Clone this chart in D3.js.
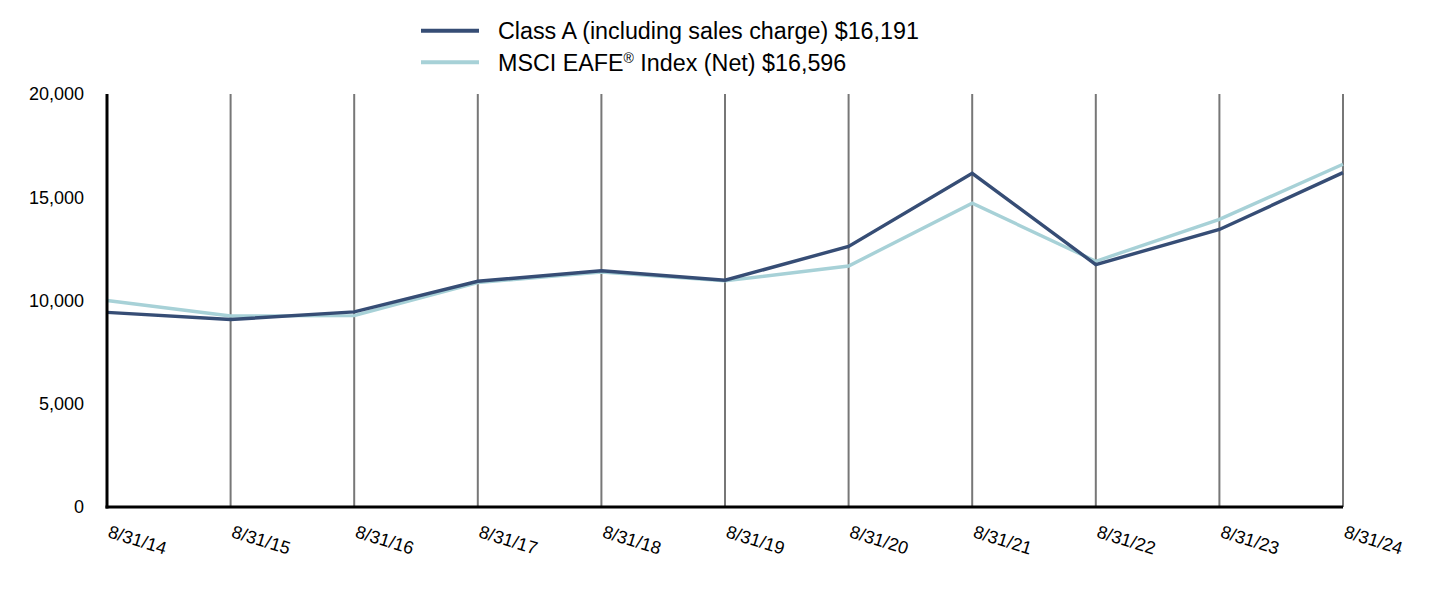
<!DOCTYPE html>
<html><head><meta charset="utf-8">
<script src="https://cdn.jsdelivr.net/npm/d3@7"></script>
<style>body{margin:0;background:#fff}svg{display:block;font-family:Arial,"Liberation Sans",sans-serif}</style>
</head><body>
<svg id="c" width="1432" height="596"></svg>
<script>
const dates = ["8/31/14","8/31/15","8/31/16","8/31/17","8/31/18","8/31/19","8/31/20","8/31/21","8/31/22","8/31/23","8/31/24"];
const classA = [9425,9080,9450,10930,11440,10980,12620,16160,11740,13440,16191];
const msci = [10000,9250,9270,10870,11380,10950,11670,14710,11900,13930,16596];
const yTicks = [0,5000,10000,15000,20000];
const seriesNames = ["Class A (including sales charge) $16,191","MSCI EAFE\u00AE Index (Net) $16,596"];
const colors = ["#364d75","#a7d1d7"];

const svg = d3.select("#c");
const L=107,R=1343,T=94,B=507;
const x = d3.scalePoint().domain(dates).range([L,R]);
const y = d3.scaleLinear().domain([0,20000]).range([B,T]);

// vertical gridlines
svg.append("g").selectAll("line").data(dates.slice(1)).join("line")
  .attr("x1",d=>x(d)).attr("x2",d=>x(d)).attr("y1",T).attr("y2",B)
  .attr("stroke","#777").attr("stroke-width",2);

// y labels
svg.append("g").selectAll("text").data(yTicks).join("text")
  .attr("x",84).attr("y",d=>y(d)).attr("dy","0.36em").attr("text-anchor","end")
  .attr("font-size",18).attr("fill","#000").text(d=>d3.format(",")(d));

// x labels
svg.append("g").selectAll("text").data(dates).join("text")
  .attr("transform",d=>`translate(${x(d)},${B+30}) rotate(17)`)
  .attr("font-size",18).attr("fill","#000").text(d=>d);

// lines
const line = d3.line().x((d,i)=>x(dates[i])).y(d=>y(d));
[msci,classA].forEach((s,k)=>{
  svg.append("path").datum(s).attr("d",line).attr("fill","none")
    .attr("stroke",k===0?colors[1]:colors[0]).attr("stroke-width",3.4).attr("stroke-linejoin","miter");
});

// axes
svg.append("line").attr("x1",L).attr("x2",L).attr("y1",T).attr("y2",B+1.5).attr("stroke","#000").attr("stroke-width",3);
svg.append("line").attr("x1",L-1.5).attr("x2",R).attr("y1",B).attr("y2",B).attr("stroke","#000").attr("stroke-width",3);

// legend
const lg = svg.append("g");
seriesNames.forEach((n,i)=>{
  const yy = 30.7+i*31.6;
  lg.append("line").attr("x1",421).attr("x2",479).attr("y1",yy).attr("y2",yy).attr("stroke",colors[i]).attr("stroke-width",4);
  const t = lg.append("text").attr("x",498).attr("y",yy+8.3).attr("font-size",23.3).attr("fill","#000");
  if(i===1){
    t.append("tspan").text("MSCI EAFE");
    t.append("tspan").text("\u00AE").attr("font-size",14).attr("dy",-8);
    t.append("tspan").text(" Index (Net) $16,596").attr("dy",8);
  } else t.text(n);
});
</script>
</body></html>
